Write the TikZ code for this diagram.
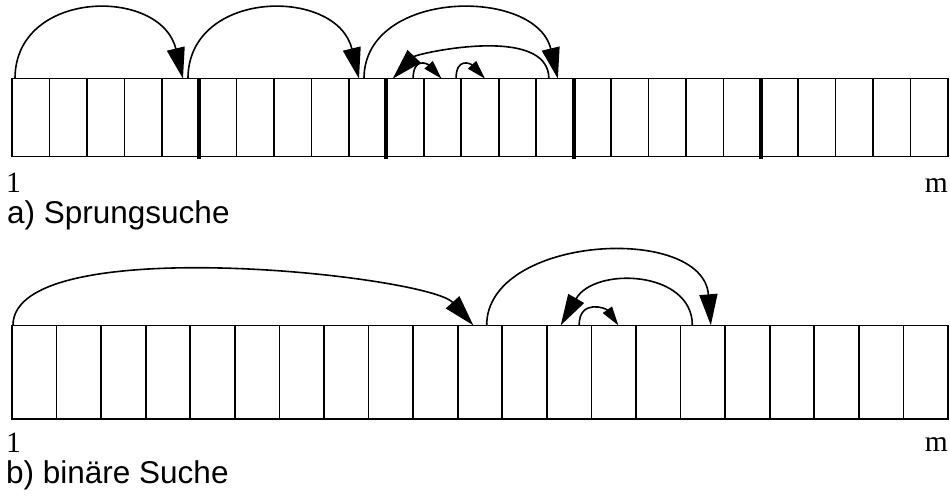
\documentclass[tikz,border=0pt]{standalone}
\usepackage{fontspec}
\setmainfont{Liberation Serif}
\newfontfamily\titelfont{Liberation Sans}
\usetikzlibrary{arrows.meta}

\begin{document}
\begin{tikzpicture}[x=1pt,y=-1pt,
  cella/.style={draw,line width=1.6pt,inner sep=0pt,outer sep=0pt,
    minimum width=37.44pt,minimum height=78pt},
  cellb/.style={draw,line width=1.6pt,inner sep=0pt,outer sep=0pt,
    minimum width=44.57pt,minimum height=93.4pt},
  grenze/.style={line width=4pt},
  sprung/.style={line width=1.6pt,-{Triangle[length=31pt,width=18pt]}},
  hop/.style={line width=1.6pt,-{Triangle[length=19pt,width=11pt]}},
  num/.style={inner sep=0pt,font=\fontsize{29.5}{30}\selectfont},
  titel/.style={inner sep=0pt,font=\titelfont\fontsize{31.5}{32}\selectfont}]
\useasboundingbox (0,0) rectangle (950,497);

% a) array with block borders every 5 cells
\foreach \i in {1,...,25}
  \node[cella] (a-\i) at ({12+(\i-0.5)*37.44},117.7) {};
\foreach \i in {5,10,15,20}
  \draw[grenze] (a-\i.north east) -- ([yshift=-2pt]a-\i.south east);

\draw[sprung] ([xshift=3pt]a-1.north west) .. controls +(0,-90) and +(-22,-92) .. ([xshift=2.5pt]a-5.north);
\draw[sprung] ([xshift=7.5pt]a-5.north) .. controls +(0,-90) and +(-22,-92) .. ([xshift=-8.7pt]a-10.north);
\draw[sprung] ([xshift=-3.7pt]a-10.north) .. controls +(0,-90) and +(-22,-92) .. ([xshift=3pt]a-15.north);
\draw[sprung] ([xshift=-6pt]a-15.north) .. controls +(0,-55) and +(24,-25) .. ([xshift=6.3pt]a-11.north west);
\draw[hop] ([xshift=8pt]a-11.north) .. controls +(0,-22) and +(-14,-15) .. ([xshift=-1pt]a-12.north);
\draw[hop] ([xshift=13.5pt]a-12.north) .. controls +(0,-22) and +(-14,-15) .. ([xshift=5pt]a-13.north);

\node[num,anchor=base west] (eins-a) at (6,193) {1};
\node[num,anchor=base east] (m-a) at (948,193) {m};
\node[titel,anchor=base west] (titel-a) at (7,223) {a) Sprungsuche};

% b) array, halving steps
\foreach \i in {1,...,21}
  \node[cellb] (b-\i) at ({12+(\i-0.5)*44.57},372) {};

\draw[sprung] ([xshift=1pt]b-1.north west) .. controls +(0,-95) and +(-45,-50) .. ([xshift=-6.7pt]b-11.north);
\draw[sprung] ([xshift=6.7pt]b-11.north) .. controls +(0,-90) and +(-8,-102) .. ([xshift=8pt]b-16.north);
\draw[sprung] ([xshift=-10.5pt]b-16.north) .. controls +(0,-55) and +(34,-59) .. ([xshift=-8.4pt]b-13.north);
\draw[hop] ([xshift=10pt]b-13.north) .. controls +(0,-27) and +(-12,-17) .. ([xshift=4.6pt]b-14.north);

\node[num,anchor=base west] (eins-b) at (6,452.7) {1};
\node[num,anchor=base east] (m-b) at (948,451.7) {m};
\node[titel,anchor=base west] (titel-b) at (6,483) {b) binäre Suche};
\end{tikzpicture}
\end{document}
